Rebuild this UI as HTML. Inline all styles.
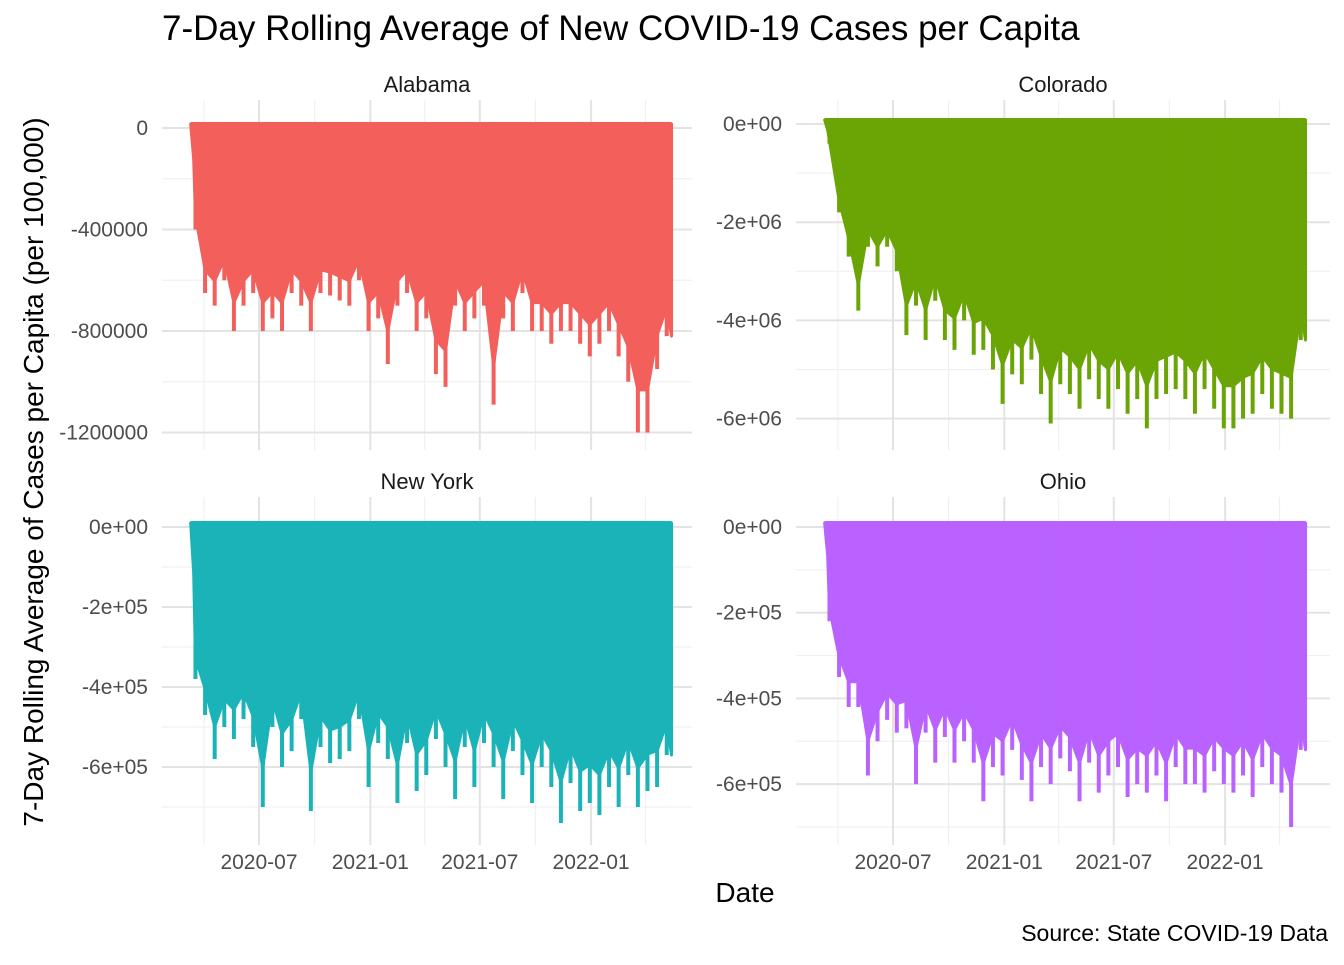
<!DOCTYPE html>
<html><head><meta charset="utf-8">
<style>
body{margin:0;background:#fff;font-family:"Liberation Sans",Arial,sans-serif;}
svg text{font-family:"Liberation Sans",Arial,sans-serif;}
</style></head>
<body>
<svg id="chart" width="1344" height="960" viewBox="0 0 1344 960">
<text x="162" y="40" font-size="35" fill="#000">7-Day Rolling Average of New COVID-19 Cases per Capita</text>
<text transform="translate(43,472) rotate(-90)" text-anchor="middle" font-size="28" fill="#000">7-Day Rolling Average of Cases per Capita (per 100,000)</text>
<text x="745" y="902" text-anchor="middle" font-size="28" fill="#000">Date</text>
<text x="1328" y="941" text-anchor="end" font-size="23" fill="#000">Source: State COVID-19 Data</text>
<g id="panels"></g>
</svg>
<script>
const startDate = "2020-03-10";
const stepDays = 15.9;
const xTickLabels = ["2020-07","2021-01","2021-07","2022-01"];
const alabamaValues = [-400,-650,-700,-600,-800,-700,-650,-800,-750,-800,-650,-700,-800,-650,-660,-680,-700,-600,-800,-750,-930,-700,-650,-800,-750,-970,-1020,-700,-800,-750,-700,-1090,-750,-800,-650,-800,-800,-850,-800,-800,-850,-900,-850,-800,-900,-1000,-1200,-1200,-950,-820];
const coloradoValues = [-0.4,-1.8,-2.7,-3.8,-2.5,-2.9,-2.5,-3.0,-4.3,-3.7,-4.4,-3.6,-4.4,-4.6,-4.0,-4.7,-4.6,-5.0,-5.7,-5.1,-5.3,-4.8,-5.5,-6.1,-5.3,-5.5,-5.8,-5.2,-5.6,-5.8,-5.4,-5.9,-5.6,-6.2,-5.6,-5.5,-5.4,-5.6,-5.9,-5.4,-5.8,-6.2,-6.2,-6.0,-5.9,-5.5,-5.8,-5.9,-6.0,-4.4];
const newYorkValues = [-380,-470,-580,-500,-530,-480,-550,-700,-500,-600,-560,-480,-710,-550,-590,-580,-560,-480,-650,-540,-580,-690,-540,-660,-620,-530,-600,-680,-550,-650,-540,-600,-680,-560,-620,-690,-600,-650,-740,-640,-710,-690,-720,-650,-700,-620,-700,-660,-650,-570];
const ohioValues = [-220,-350,-420,-420,-580,-500,-450,-480,-470,-600,-480,-550,-490,-550,-500,-550,-640,-560,-580,-520,-590,-640,-560,-600,-540,-570,-640,-550,-620,-580,-560,-630,-600,-620,-580,-640,-560,-600,-600,-620,-570,-600,-620,-580,-630,-560,-600,-620,-700,-520];
const alabamaTicks = [0,-400,-800,-1200];
const alabamaTickLabels = ["0","-400000","-800000","-1200000"];
const coloradoTicks = [0,-2,-4,-6];
const coloradoTickLabels = ["0e+00","-2e+06","-4e+06","-6e+06"];
const nyTicks = [0,-200,-400,-600];
const nyTickLabels = ["0e+00","-2e+05","-4e+05","-6e+05"];
const ohioTicks = [0,-200,-400,-600];
const ohioTickLabels = ["0e+00","-2e+05","-4e+05","-6e+05"];

const NS="http://www.w3.org/2000/svg";
const root=document.getElementById('panels');
function mk(tag,attrs,parent){const e=document.createElementNS(NS,tag);for(const k in attrs)e.setAttribute(k,attrs[k]);(parent||root).appendChild(e);return e;}
const ref=new Date("2020-07-01T00:00:00Z");
const tickDates=["2020-07-01","2021-01-01","2021-07-01","2022-01-01"];
const minorDates=["2020-04-01","2020-10-01","2021-04-01","2021-10-01","2022-04-01"];
function days(s){return (new Date(s+"T00:00:00Z")-ref)/86400000;}
function panel(p){
  const g=mk('g',{});
  
  
  const xs=d=>p.x0+d*(111/183.5);
  const ys=v=>p.zero-v*p.ppu;
  const st=mk('text',{x:(p.left+p.right)/2,y:p.stripY,'text-anchor':'middle','font-size':22,fill:'#1a1a1a'},g);
  st.textContent=p.title;
  
  
  const step=p.ticks[0]-p.ticks[1];
  for(let i=-1;i<p.ticks.length+1;i++){
    const v=p.ticks[0]-(i+0.5)*step;
    const y=ys(v); if(y<p.top||y>p.bottom) continue;
    const l=mk('line',{x1:p.left,x2:p.right,y1:y,y2:y,stroke:'#f0f0f0','stroke-width':1.2},g);
    
    
  }
  minorDates.forEach(d=>{const x=xs(days(d));
    const l=mk('line',{x1:x,x2:x,y1:p.top,y2:p.bottom,stroke:'#f0f0f0','stroke-width':1.2},g);
    
    });
  p.ticks.forEach((v,i)=>{const y=ys(v);
    const l=mk('line',{x1:p.left,x2:p.right,y1:y,y2:y,stroke:'#e3e3e3','stroke-width':2},g);
    
    
    const t=mk('text',{x:p.left-14,y:y+7,'text-anchor':'end','font-size':21,fill:'#4d4d4d'},g);
    t.textContent=p.labels[i];
    
    });
  tickDates.forEach((d,i)=>{const x=xs(days(d));
    const l=mk('line',{x1:x,x2:x,y1:p.top,y2:p.bottom,stroke:'#e3e3e3','stroke-width':2},g);
    
    
    if(p.xlabels){const t=mk('text',{x:x,y:p.bottom+24,'text-anchor':'middle','font-size':21,fill:'#4d4d4d'},g);
      t.textContent=xTickLabels[i];
      
      }});
  const d0=days(startDate);
  const px=p.values.map((v,i)=>xs(d0+(i+0.5)*stepDays));
  const x1=xs(d0), x2=xs(d0+p.values.length*stepDays);
  const top=ys(0)-4;
  let pts=`${x1},${top} ${x1+3},${ys(p.values[0]*0.3)} `;
  p.values.forEach((v,i)=>{pts+=`${px[i]},${ys(v*0.86)} `;});
  pts+=`${x2},${ys(p.values[p.values.length-1])} ${x2},${top}`;
  const poly=mk('polygon',{points:pts,fill:p.color,stroke:p.color,'stroke-width':3,'stroke-linejoin':'round'},g);
  
  
  p.values.forEach((v,i)=>{
    const s=mk('line',{x1:px[i],x2:px[i],y1:top,y2:ys(v),stroke:p.color,'stroke-width':4},g);
    
    });
  const tl=mk('line',{x1:x1,x2:x2,y1:top,y2:top,stroke:p.color,'stroke-width':4},g);
  
  
}
panel({name:'alabama',title:'Alabama',values:alabamaValues,ticks:alabamaTicks,labels:alabamaTickLabels,color:'#F35F5B',left:162,right:692,top:100,bottom:450,stripY:92,zero:128,ppu:101.5/400,x0:259,xlabels:false});
panel({name:'colorado',title:'Colorado',values:coloradoValues,ticks:coloradoTicks,labels:coloradoTickLabels,color:'#6AA505',left:796,right:1330,top:100,bottom:450,stripY:92,zero:124,ppu:98.2/2,x0:893,xlabels:false});
panel({name:'new-york',title:'New York',values:newYorkValues,ticks:nyTicks,labels:nyTickLabels,color:'#1AB4B8',left:162,right:692,top:497,bottom:845,stripY:489,zero:527,ppu:80/200,x0:259,xlabels:true});
panel({name:'ohio',title:'Ohio',values:ohioValues,ticks:ohioTicks,labels:ohioTickLabels,color:'#B962FF',left:796,right:1330,top:497,bottom:845,stripY:489,zero:527,ppu:85.7/200,x0:893,xlabels:true});
</script>
</body></html>
